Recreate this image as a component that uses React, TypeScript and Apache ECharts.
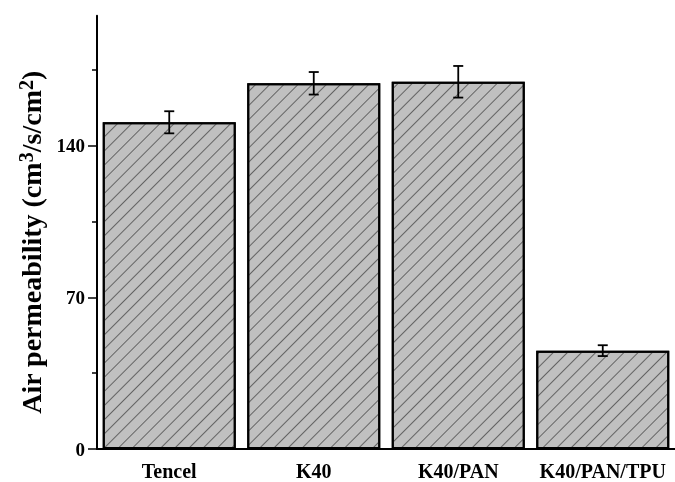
import React, { useEffect, useRef } from "react";
import * as echarts from "echarts";

const categories = ["Tencel", "K40", "K40/PAN", "K40/PAN/TPU"];
const values = [150.8, 168.8, 169.5, 45.4];
const errors = [5.1, 5.2, 7.3, 2.5];
const yTicks = [0, 70, 140];
const yMinorTicks = [35, 105, 175];

export default function App() {
  const ref = useRef<HTMLDivElement>(null);
  useEffect(() => {
    const chart = echarts.init(ref.current!, null, { renderer: "svg" });
    const font = "'Liberation Serif', 'Times New Roman', serif";
    chart.setOption({
      animation: false,
      aria: { enabled: true, decal: { show: true } },
      grid: { left: 97, top: 15.7, width: 585, height: 433.3 },
      xAxis: [
        {
          type: "category",
          data: categories,
          position: "bottom",
          axisLine: { lineStyle: { color: "#000", width: 2 } },
          axisTick: { alignWithLabel: true, length: 8, lineStyle: { color: "#000", width: 1.5 } },
          axisLabel: { interval: 0, margin: 12, fontFamily: font, fontWeight: "bold", fontSize: 20, color: "#000" },
        },
        {
          type: "category",
          data: categories,
          position: "bottom",
          axisLine: { show: false },
          axisTick: { length: 4, lineStyle: { color: "#000", width: 1.5 } },
          axisLabel: { show: false },
        },
      ],
      yAxis: [
        {
          type: "value",
          min: 0,
          max: 200,
          position: "left",
          splitLine: { show: false },
          axisLine: { show: true, lineStyle: { color: "#000", width: 2 } },
          axisTick: { show: true, customValues: yTicks, length: 9, lineStyle: { color: "#000", width: 1.5 } },
          axisLabel: { customValues: yTicks, margin: 12, fontFamily: font, fontWeight: "bold", fontSize: 19, color: "#000" },
          name: "{n|Air permeability (cm}{s|3}{n|/s/cm}{s|2}{n|)}",
          nameLocation: "middle",
          nameGap: 44,
          nameRotate: 90,
          nameTextStyle: {
            padding: [0, 20, 0, 0],
            rich: {
              n: { fontSize: 28, fontWeight: "bold", fontFamily: font, color: "#000", lineHeight: 30, verticalAlign: "bottom" },
              s: { fontSize: 20, fontWeight: "bold", fontFamily: font, color: "#000", lineHeight: 10, verticalAlign: "top" },
            },
          },
        },
        {
          type: "value",
          min: 0,
          max: 200,
          position: "left",
          splitLine: { show: false },
          axisLine: { show: false },
          axisTick: { show: true, customValues: yMinorTicks, length: 5, lineStyle: { color: "#000", width: 1.5 } },
          axisLabel: { show: false },
        },
      ],
      series: [
        {
          type: "bar",
          xAxisIndex: 0,
          yAxisIndex: 0,
          data: values,
          barWidth: 133,
          itemStyle: {
            color: "#c0c0c0",
            borderColor: "#000",
            borderWidth: 2,
            decal: {
              symbol: "rect",
              symbolSize: 1,
              dashArrayX: [1, 0],
              dashArrayY: [1, 9],
              rotation: -Math.PI / 4,
              color: "rgba(50,50,50,0.65)",
            },
          },
        },
        {
          type: "custom",
          xAxisIndex: 0,
          yAxisIndex: 0,
          z: 10,
          encode: { x: 0, y: 1 },
          data: categories.map((c, i) => [i, values[i], errors[i]]),
          renderItem: (params: any, api: any) => {
            const x = api.value(0);
            const v = api.value(1);
            const e = api.value(2);
            const top = api.coord([x, v + e]);
            const bot = api.coord([x, v - e]);
            const hw = 5;
            const st = { stroke: "#000", lineWidth: 1.8 };
            return {
              type: "group",
              children: [
                { type: "line", shape: { x1: top[0], y1: top[1], x2: bot[0], y2: bot[1] }, style: st },
                { type: "line", shape: { x1: top[0] - hw, y1: top[1], x2: top[0] + hw, y2: top[1] }, style: st },
                { type: "line", shape: { x1: bot[0] - hw, y1: bot[1], x2: bot[0] + hw, y2: bot[1] }, style: st },
              ],
            };
          },
        },
      ],
    });
    return () => chart.dispose();
  }, []);
  return <div ref={ref} style={{ position: "fixed", left: 0, top: 0, width: 675, height: 482 }} />;
}
